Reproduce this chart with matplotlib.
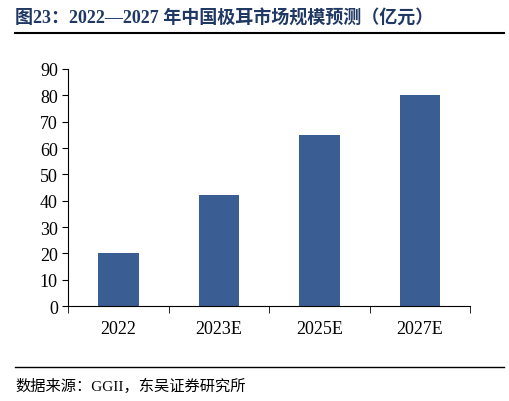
import matplotlib.pyplot as plt
import numpy as np
from matplotlib.lines import Line2D

plt.rcParams['font.family'] = ['Liberation Serif', 'Noto Sans CJK SC']

categories = ['2022', '2023E', '2025E', '2027E']
values = [20, 42, 65, 80]

fig = plt.figure(figsize=(5.09, 4.02), dpi=100)
ax = fig.add_axes([0.134, 0.236, 0.79, 0.59])

x = np.arange(len(categories))
ax.bar(x, values, width=0.4, color='#3A5E94')

ax.set_xlim(-0.5, len(categories) - 0.5)
ax.set_ylim(0, 90)
ax.set_yticks(range(0, 91, 10))
ax.set_xticks(x)
ax.set_xticklabels(categories)
ax.set_xticks(np.arange(-0.5, len(categories), 1), minor=True)
ax.tick_params(axis='x', which='major', length=0, pad=10, labelsize=13)
ax.tick_params(axis='x', which='minor', length=5, direction='out')
ax.tick_params(axis='y', length=4, direction='out', labelsize=13)
for s in ['top', 'right']:
    ax.spines[s].set_visible(False)

navy = '#1F3864'
fig.text(0.03, 0.955, '图23：2022—2027 年中国极耳市场规模预测（亿元）', fontsize=13,
         fontweight='bold', color=navy, va='center')
fig.add_artist(Line2D([0.03, 0.99], [0.915, 0.915], color='black', lw=1.5))
fig.add_artist(Line2D([0.03, 0.99], [0.085, 0.085], color='black', lw=1.0))
fig.text(0.03, 0.04, '数据来源：GGII，东吴证券研究所', fontsize=11, va='center')

fig.savefig('out.png', dpi=100)
